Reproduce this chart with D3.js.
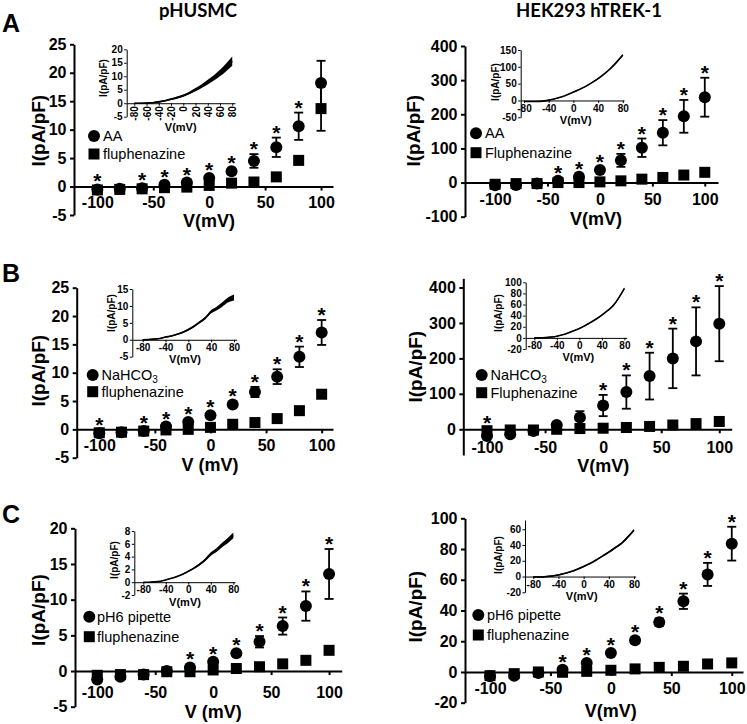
<!DOCTYPE html>
<html><head><meta charset="utf-8">
<script src="https://cdn.jsdelivr.net/npm/d3@7"></script>
<style>body{margin:0;background:#fff}svg{display:block}</style>
</head><body>
<svg id="c" width="747" height="724"></svg>
<script>
// ---------------- DATA ----------------
const voltages = [-100,-80,-60,-40,-20,0,20,40,60,80,100];
const mainXTicks = [-100,-50,0,50,100];

// A: pHUSMC
const aHusmcAA     = [-0.5,-0.4,-0.3,0.3,0.7,1.5,2.7,4.5,6.9,10.6,18.2];
const aHusmcAAErr  = [0.2,0.2,0.2,0.2,0.3,0.4,0.4,1.2,1.7,2.4,3.9];
const aHusmcFlu    = [-0.6,-0.5,-0.4,-0.2,-0.1,0.2,0.6,0.8,1.7,4.6,13.7];
const aHusmcFluErr = [0.1,0.1,0.1,0.1,0.1,0.1,0.2,0.2,0.3,0.7,3.9];
const aHusmcStars  = [-100,-60,-40,-20,0,20,40,60,80];
const aHusmcYTicks = [-5,0,5,10,15,20,25];

// A: HEK293 hTREK-1
const aHekAA     = [-8,-7,-3,5,17,37,65,102,146,194,250];
const aHekAAErr  = [2,2,2,3,5,6,19,27,37,48,57];
const aHekFlu    = [-5,-3,-3,0,0,2,5,10,15,22,30];
const aHekFluErr = [1,1,1,1,1,1,2,2,3,3,4];
const aHekStars  = [-40,-20,0,20,40,60,80,100];
const aHekYTicks = [-100,0,100,200,300,400];

// B: pHUSMC
const bHusmcNa     = [-0.7,-0.5,-0.3,0.5,1.3,2.5,4.4,6.6,9.3,12.8,17.1];
const bHusmcNaErr  = [0.2,0.2,0.2,0.2,0.3,0.3,0.4,0.9,1.3,1.8,2.2];
const bHusmcFlu    = [-0.6,-0.5,-0.3,-0.1,0,0.35,0.9,1.2,1.9,3.3,6.2];
const bHusmcFluErr = [0.1,0.1,0.1,0.1,0.1,0.1,0.2,0.2,0.2,0.3,0.4];
const bHusmcStars  = [-100,-60,-40,-20,0,20,40,60,80,100];
const bHusmcYTicks = [-5,0,5,10,15,20,25];

// B: HEK293 hTREK-1
const bHekNa     = [-19,-14,-5,12,33,67,105,150,200,248,298];
const bHekNaErr  = [5,5,4,6,18,30,47,66,84,96,106];
const bHekFlu    = [-4,-2,-2,0,2,3,5,8,12,16,22];
const bHekFluErr = [1,1,1,1,1,1,1,2,2,3,3];
const bHekStars  = [-100,0,20,40,60,80,100];
const bHekYTicks = [0,100,200,300,400];

// C: pHUSMC
const cHusmcPh     = [-1.2,-0.8,-0.5,0,0.5,1.3,2.5,4.1,6.3,9.1,13.6];
const cHusmcPhErr  = [0.2,0.2,0.2,0.2,0.2,0.3,0.3,0.8,1.2,2.05,3.5];
const cHusmcFlu    = [-0.6,-0.5,-0.5,-0.1,-0.1,0.15,0.35,0.6,1.0,1.5,2.9];
const cHusmcFluErr = [0.1,0.1,0.1,0.1,0.1,0.1,0.1,0.1,0.1,0.15,0.2];
const cHusmcStars  = [-20,0,20,40,60,80,100];
const cHusmcYTicks = [-5,0,5,10,15,20];

// C: HEK293 hTREK-1
const cHekPh     = [-2.8,-2.4,-0.7,1.5,5.9,12.4,20.7,32.4,46,63.5,83.5];
const cHekPhErr  = [1,1,1,1,1,1.5,2,2.5,5,7.5,11];
const cHekFlu    = [-2.4,-1.1,0,-0.2,0.4,1.1,2,3,3.7,5.2,5.9];
const cHekFluErr = [0.5,0.5,0.5,0.5,0.5,0.5,0.5,0.5,0.5,0.6,0.6];
const cHekStars  = [-40,-20,0,20,40,60,80,100];
const cHekYTicks = [-20,0,20,40,60,80,100];

// Insets (I-V ramps)
const insetVoltages = [-80,-70,-60,-50,-40,-30,-20,-10,0,10,20,30,40,50,60,70,80];
const aHusmcTrace = [0,0,0.1,0.2,0.5,0.9,1.5,2.1,2.8,3.8,5.0,6.3,7.8,9.4,11.2,13.3,15.6];
const aHusmcNoise = [0.2,0.2,0.2,0.2,0.3,0.3,0.3,0.4,0.4,0.5,0.6,0.7,0.9,1.0,1.2,1.4,1.7];
const aHekTrace   = [-3,-3,-3,-2,1,5,10,17,25,33,42,53,65,79,95,114,135];
const aHekNoise   = [1,1,1,1,1,1,1,1,1.5,1.5,1.5,2,2,2,2.5,3,3];
const bHusmcTrace = [0,0.1,0.2,0.4,0.8,1.1,1.6,2.2,3.0,4.0,5.2,6.5,8.3,9.3,10.5,11.8,12.5];
const bHusmcNoise = [0.15,0.15,0.15,0.15,0.2,0.2,0.2,0.25,0.3,0.3,0.35,0.4,0.5,0.55,0.65,0.75,0.9];
const bHekTrace   = [0,0,0.5,1.5,3,5.5,9,13,17,22,28,34,41,49,58,72,89];
const bHekNoise   = [0.8,0.8,0.8,0.8,0.8,0.8,0.8,0.8,1,1,1,1,1.2,1.2,1.3,1.4,1.5];
const cHusmcTrace = [0,0,0.05,0.15,0.35,0.6,0.9,1.25,1.7,2.2,2.8,3.5,4.4,5.0,5.8,6.5,7.3];
const cHusmcNoise = [0.05,0.05,0.05,0.05,0.06,0.07,0.08,0.1,0.12,0.15,0.18,0.22,0.27,0.3,0.35,0.4,0.45];
const cHekTrace   = [-0.5,-0.5,0,0.7,2,4,6.3,9.3,12.7,16.5,21,26,31,36.5,42,50,59];
const cHekNoise   = [0.8,0.8,0.8,0.8,0.8,0.8,0.8,0.8,1,1,1,1,1.2,1.2,1.3,1.4,1.5];

const insetXTicksDense = [-80,-60,-40,-20,0,20,40,60,80];
const insetXTicks = [-80,-40,0,40,80];
const aHusmcInsetYTicks = [-5,0,5,10,15,20];
const aHekInsetYTicks = [-50,0,50,100,150];
const bHusmcInsetYTicks = [-5,0,5,10,15];
const bHekInsetYTicks = [-20,0,20,40,60,80,100];
const cHusmcInsetYTicks = [-2,0,2,4,6,8];
const cHekInsetYTicks = [-20,0,20,40,60];

// ---------------- PANELS ----------------
const panels = [
 { treat:aHusmcAA, treatErr:aHusmcAAErr, flu:aHusmcFlu, fluErr:aHusmcFluErr, stars:aHusmcStars, yTicks:aHusmcYTicks,
   labels:["AA","fluphenazine"], xTitle:"V(mV)",
   L:{xd:[-120.9,110.7], xr:[74,333], yd:[-5,25], yr:[215,44.3], xPad:5.8, xt:[209,221], yt:[38.3,130.7], lg:[94,136,154,103]},
   inset:{trace:aHusmcTrace, noise:aHusmcNoise, xTicks:insetXTicksDense, yTicks:aHusmcInsetYTicks, rotate:true,
     L:{xd:[-92.4,84.5], xr:[126.7,235], yd:[-5,20], yr:[116.7,49.3], xt:[180.7,127.3], yt:[103.3,78]}}},
 { treat:aHekAA, treatErr:aHekAAErr, flu:aHekFlu, fluErr:aHekFluErr, stars:aHekStars, yTicks:aHekYTicks,
   labels:["AA","Fluphenazine"], xTitle:"V(mV)",
   L:{xd:[-128.7,112.6], xr:[465,718], yd:[-100,400], yr:[216.7,46], xPad:7, xt:[596,218.5], yt:[413.3,130.7], lg:[476,133.3,152.7,485]},
   inset:{trace:aHekTrace, noise:aHekNoise, xTicks:insetXTicks, yTicks:aHekInsetYTicks, rotate:false,
     L:{xd:[-85.3,81.9], xr:[520.7,624], yd:[-50,150], yr:[117.3,50], xt:[575.7,120], yt:[495,82]}}},
 { treat:bHusmcNa, treatErr:bHusmcNaErr, flu:bHusmcFlu, fluErr:bHusmcFluErr, stars:bHusmcStars, yTicks:bHusmcYTicks,
   labels:["NaHCO3","fluphenazine"], xTitle:"V (mV)",
   L:{xd:[-120.3,110.2], xr:[76.7,333], yd:[-5,25], yr:[457.7,287.7], xPad:6, xt:[210,464.5], yt:[38.3,370.7], lg:[92.7,375,391.7,101.5]},
   inset:{trace:bHusmcTrace, noise:bHusmcNoise, xTicks:insetXTicks, yTicks:bHusmcInsetYTicks, rotate:false,
     L:{xd:[-98.2,84.7], xr:[132.3,236.7], yd:[-5,15], yr:[356.7,289], xt:[185,359], yt:[111.7,313]}}},
 { treat:bHekNa, treatErr:bHekNaErr, flu:bHekFlu, fluErr:bHekFluErr, stars:bHekStars, yTicks:bHekYTicks,
   labels:["NaHCO3","Fluphenazine"], xTitle:"V(mV)",
   L:{xd:[-120.4,110.7], xr:[463.3,731.7], yd:[-72.6,426], yr:[455,278.3], xPad:8, xt:[603.3,465.5], yt:[415,366.7], lg:[481.7,375,392.7,490.5]},
   inset:{trace:bHekTrace, noise:bHekNoise, xTicks:insetXTicks, yTicks:bHekInsetYTicks, rotate:false,
     L:{xd:[-95.3,84.1], xr:[525.7,626.7], yd:[-20,100], yr:[349,282.3], xt:[578.3,356.7], yt:[498.3,313]}}},
 { treat:cHusmcPh, treatErr:cHusmcPhErr, flu:cHusmcFlu, fluErr:cHusmcFluErr, stars:cHusmcStars, yTicks:cHusmcYTicks,
   labels:["pH6 pipette","fluphenazine"], xTitle:"V (mV)",
   L:{xd:[-119.2,110.9], xr:[75,341.7], yd:[-5,20], yr:[706.7,528.3], xPad:12, xt:[213.3,711.5], yt:[38.3,610], lg:[89.3,616.7,636.7,97]},
   inset:{trace:cHusmcTrace, noise:cHusmcNoise, xTicks:insetXTicks, yTicks:cHusmcInsetYTicks, rotate:false,
     L:{xd:[-96,83], xr:[134.3,235], yd:[-2,8], yr:[595,531], xt:[185,601.5], yt:[114,560]}}},
 { treat:cHekPh, treatErr:cHekPhErr, flu:cHekFlu, fluErr:cHekFluErr, stars:cHekStars, yTicks:cHekYTicks,
   labels:["pH6 pipette","fluphenazine"], xTitle:"V(mV)",
   L:{xd:[-120.7,109.3], xr:[465,743], yd:[-20,100], yr:[702.7,518.3], xPad:7, xt:[610.7,710.5], yt:[415,606.7], lg:[478.3,615,635,487]},
   inset:{trace:cHekTrace, noise:cHekNoise, xTicks:insetXTicks, yTicks:cHekInsetYTicks, rotate:false,
     L:{xd:[-93.2,82.7], xr:[525,635.7], yd:[-20,71.8], yr:[592.3,520], xt:[581.7,596], yt:[498.3,555]}}}
];

// ---------------- DRAW ----------------
const FONT = "'Liberation Sans', Arial, Helvetica, sans-serif";
const fmt = d => String(d);
const svg = d3.select('#c');
svg.append('rect').attr('width',747).attr('height',724).attr('fill','#fff');

// column titles and panel letters
svg.append('text').attr('x',198).attr('y',17).attr('text-anchor','middle')
  .attr('font-family',"Lato, 'Open Sans', sans-serif").attr('font-weight','bold').attr('font-size',18.5).text('pHUSMC');
svg.append('text').attr('x',589).attr('y',17).attr('text-anchor','middle')
  .attr('font-family',"Lato, 'Open Sans', sans-serif").attr('font-weight','bold').attr('font-size',18.5).text('HEK293 hTREK-1');
[['A',31.7],['B',281.7],['C',523.3]].forEach(([t,yy])=>{
  svg.append('text').attr('x',2).attr('y',yy).attr('font-family',FONT).attr('font-weight','bold')
    .attr('font-size',25).text(t);
});

const R = 6, SQ = 11, CAP = 4.5;

function styleAxis(g, fs, sw){
  g.selectAll('path,line').attr('stroke','#000').attr('stroke-width',sw);
  g.selectAll('text').attr('font-family',FONT).attr('font-weight','bold').attr('font-size',fs).attr('fill','#000');
}

function drawPanel(p){
  const L = p.L;
  const g = svg.append('g');
  const x = d3.scaleLinear().domain(L.xd).range(L.xr);
  const y = d3.scaleLinear().domain(L.yd).range(L.yr);

  const ya = g.append('g').attr('transform',`translate(${L.xr[0]},0)`)
    .call(d3.axisLeft(y).tickValues(p.yTicks).tickSize(4).tickPadding(3.5).tickSizeOuter(0).tickFormat(fmt));
  styleAxis(ya, 16, 2);
  const xa = g.append('g').attr('transform',`translate(0,${y(0)})`)
    .call(d3.axisBottom(x).tickValues(mainXTicks).tickSize(4).tickPadding(L.xPad).tickSizeOuter(0).tickFormat(fmt));
  styleAxis(xa, 16, 2);

  g.append('text').attr('x',L.xt[0]).attr('y',L.xt[1]).attr('text-anchor','middle').attr('dominant-baseline','central')
    .attr('font-family',FONT).attr('font-weight','bold').attr('font-size',18).text(p.xTitle);
  g.append('text').attr('transform',`translate(${L.yt[0]},${L.yt[1]}) rotate(-90)`).attr('text-anchor','middle')
    .attr('dominant-baseline','central').attr('font-family',FONT).attr('font-weight','bold').attr('font-size',19).text('I(pA/pF)');

  const series = [
    {vals:p.treat, err:p.treatErr},
    {vals:p.flu, err:p.fluErr}
  ];
  // error bars
  series.forEach(s=>{
    const eg = g.append('g').attr('stroke','#000').attr('stroke-width',1.8);
    voltages.forEach((v,i)=>{
      const cx = x(v), y1 = y(s.vals[i]+s.err[i]), y2 = y(s.vals[i]-s.err[i]);
      eg.append('line').attr('x1',cx).attr('x2',cx).attr('y1',y1).attr('y2',y2);
      eg.append('line').attr('x1',cx-CAP).attr('x2',cx+CAP).attr('y1',y1).attr('y2',y1);
      eg.append('line').attr('x1',cx-CAP).attr('x2',cx+CAP).attr('y1',y2).attr('y2',y2);
    });
  });
  // markers
  g.append('g').selectAll('circle').data(voltages).join('circle')
    .attr('cx',v=>x(v)).attr('cy',(v,i)=>y(p.treat[i])).attr('r',R).attr('fill','#000');
  g.append('g').selectAll('rect').data(voltages).join('rect')
    .attr('x',v=>x(v)-SQ/2).attr('y',(v,i)=>y(p.flu[i])-SQ/2).attr('width',SQ).attr('height',SQ).attr('fill','#000');
  // significance stars
  voltages.forEach((v,i)=>{
    if(!p.stars.includes(v)) return;
    const top = Math.min(y(p.treat[i]+p.treatErr[i]) - 3, y(p.treat[i]) - R, y(p.flu[i]) - SQ/2);
    const center = top - 6.5;
    g.append('text').attr('x',x(v)).attr('y',center+11.5).attr('text-anchor','middle')
      .attr('font-family',FONT).attr('font-weight','bold').attr('font-size',21).text('*');
  });
  // legend
  const lg = L.lg;
  g.append('circle').attr('cx',lg[0]).attr('cy',lg[1]).attr('r',R).attr('fill','#000');
  g.append('rect').attr('x',lg[0]-SQ/2).attr('y',lg[2]-SQ/2).attr('width',SQ).attr('height',SQ).attr('fill','#000');
  const t1 = g.append('text').attr('x',lg[3]).attr('y',lg[1]).attr('dominant-baseline','central')
    .attr('font-family',FONT).attr('font-size',14.5);
  if(p.labels[0]==='NaHCO3'){
    t1.append('tspan').text('NaHCO');
    t1.append('tspan').attr('font-size',10).attr('dy',4).text('3');
  } else t1.text(p.labels[0]);
  g.append('text').attr('x',lg[3]).attr('y',lg[2]).attr('dominant-baseline','central')
    .attr('font-family',FONT).attr('font-size',14.5).text(p.labels[1]);

  drawInset(p.inset);
}

function drawInset(ins){
  const L = ins.L;
  const g = svg.append('g');
  const x = d3.scaleLinear().domain(L.xd).range(L.xr);
  const y = d3.scaleLinear().domain(L.yd).range(L.yr);
  const ya = g.append('g').attr('transform',`translate(${L.xr[0]},0)`)
    .call(d3.axisLeft(y).tickValues(ins.yTicks).tickSize(2.5).tickPadding(1.5).tickSizeOuter(0).tickFormat(fmt));
  styleAxis(ya, 10, 1);
  const xa = g.append('g').attr('transform',`translate(0,${y(0)})`)
    .call(d3.axisBottom(x).tickValues(ins.xTicks).tickSize(2.5).tickPadding(1.5).tickSizeOuter(0).tickFormat(fmt));
  styleAxis(xa, 10, 1);
  if(ins.rotate){
    xa.selectAll('text').attr('transform','rotate(-90)').attr('text-anchor','end')
      .attr('x',-3).attr('y',0).attr('dy','0.35em');
  }
  const band = d3.area().x((v)=>x(v)).y0((v,i)=>y(ins.trace[i]-ins.noise[i])).y1((v,i)=>y(ins.trace[i]+ins.noise[i]))
    .curve(d3.curveMonotoneX);
  g.append('path').attr('d',band(insetVoltages)).attr('fill','#000');
  const line = d3.line().x(v=>x(v)).y((v,i)=>y(ins.trace[i])).curve(d3.curveMonotoneX);
  g.append('path').attr('d',line(insetVoltages)).attr('fill','none').attr('stroke','#000').attr('stroke-width',1.6);
  g.append('text').attr('x',L.xt[0]).attr('y',L.xt[1]).attr('text-anchor','middle').attr('dominant-baseline','central')
    .attr('font-family',FONT).attr('font-weight','bold').attr('font-size',11).text('V(mV)');
  g.append('text').attr('transform',`translate(${L.yt[0]},${L.yt[1]}) rotate(-90)`).attr('text-anchor','middle')
    .attr('dominant-baseline','central').attr('font-family',FONT).attr('font-weight','bold').attr('font-size',10).text('I(pA/pF)');
}

panels.forEach(drawPanel);
</script>
</body></html>
